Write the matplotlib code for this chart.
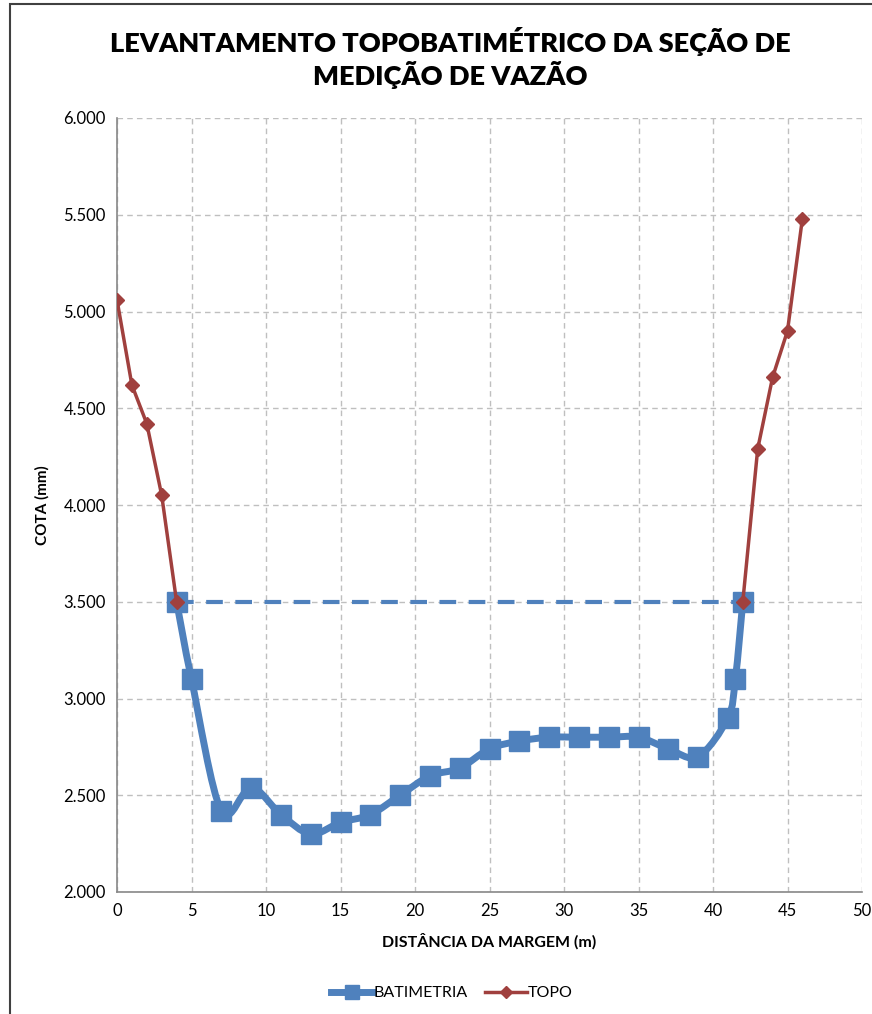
import numpy as np
import matplotlib
matplotlib.use("Agg")
import matplotlib.pyplot as plt
from matplotlib.path import Path
from matplotlib.patches import PathPatch, Rectangle
from matplotlib.lines import Line2D
from matplotlib.ticker import FuncFormatter

plt.rcParams['font.family'] = ['Lato', 'DejaVu Sans']

# Batimetria (smoothed line in the original)
bat_x = [4, 5, 7, 9, 11, 13, 15, 17, 19, 21, 23, 25, 27, 29, 31, 33, 35, 37, 39, 41, 41.5, 42]
bat_y = [3.50, 3.10, 2.42, 2.54, 2.40, 2.30, 2.36, 2.40, 2.50, 2.60, 2.64, 2.74, 2.78,
         2.80, 2.80, 2.80, 2.80, 2.74, 2.70, 2.90, 3.10, 3.50]

# Water level (dashed)
na_x = [4, 42]
na_y = [3.50, 3.50]

# Topo
topo_x = [0, 1, 2, 3, 4, 42, 43, 44, 45, 46]
topo_y = [5.06, 4.62, 4.42, 4.05, 3.50, 3.50, 4.29, 4.66, 4.90, 5.48]
topo_left = 5  # first five points are left bank, rest right bank

blue = '#4F81BD'
red = '#A0403E'


def smooth_path(x, y):
    # Excel-style smoothed line: cubic Bezier with Catmull-Rom control points
    x = np.asarray(x, float)
    y = np.asarray(y, float)
    verts = [(x[0], y[0])]
    codes = [Path.MOVETO]
    n = len(x)
    for i in range(n - 1):
        x0, y0 = (x[i - 1], y[i - 1]) if i > 0 else (x[i], y[i])
        x3, y3 = (x[i + 2], y[i + 2]) if i + 2 < n else (x[i + 1], y[i + 1])
        c1 = (x[i] + (x[i + 1] - x0) / 6, y[i] + (y[i + 1] - y0) / 6)
        c2 = (x[i + 1] - (x3 - x[i]) / 6, y[i + 1] - (y3 - y[i]) / 6)
        verts += [c1, c2, (x[i + 1], y[i + 1])]
        codes += [Path.CURVE4] * 3
    return Path(verts, codes)


fig = plt.figure(figsize=(8.72, 10.14), dpi=100)
ax = fig.add_axes([117 / 872, 1 - 892 / 1014, (862 - 117) / 872, (892 - 118) / 1014])

# figure border (chart area continues past the right/bottom edge)
fig.patches.append(Rectangle((9.5 / 872, -0.05), 1.2, 1 - 3.5 / 1014 + 0.05,
                             transform=fig.transFigure, fill=False,
                             edgecolor='#404040', linewidth=1.5))

ax.plot(na_x, na_y, color=blue, lw=3, ls=(0, (4, 3)), zorder=3)

ax.add_patch(PathPatch(smooth_path(bat_x, bat_y), fill=False, edgecolor=blue,
                       lw=5, capstyle='round', joinstyle='round', zorder=4))
ax.plot(bat_x, bat_y, ls='none', marker='s', ms=14, color=blue, zorder=5)

ax.plot(topo_x[:topo_left], topo_y[:topo_left], color=red, lw=2.5,
        marker='D', ms=7, zorder=6)
ax.plot(topo_x[topo_left:], topo_y[topo_left:], color=red, lw=2.5,
        marker='D', ms=7, zorder=6)

ax.set_xlim(0, 50)
ax.set_ylim(2.0, 6.0)
ax.set_xticks(np.arange(0, 51, 5))
ax.set_yticks(np.arange(2.0, 6.01, 0.5))
ax.yaxis.set_major_formatter(FuncFormatter(lambda v, p: f"{v:.3f}"))
ax.grid(True, color='#BFBFBF', ls=(0, (4, 3)), lw=1)
ax.set_axisbelow(True)
for s in ['top', 'right']:
    ax.spines[s].set_visible(False)
for s in ['left', 'bottom']:
    ax.spines[s].set_color('#888888')
    ax.spines[s].set_linewidth(1.2)
ax.tick_params(length=0, labelsize=12, pad=8)
ax.set_xlabel('DISTÂNCIA DA MARGEM (m)', fontsize=11.5, fontweight='bold', labelpad=10)
ax.set_ylabel('COTA (mm)', fontsize=11, fontweight='bold', labelpad=10)

fig.text(450 / 872, 1 - 58 / 1014, 'LEVANTAMENTO TOPOBATIMÉTRICO DA SEÇÃO DE\nMEDIÇÃO DE VAZÃO',
         ha='center', va='center', fontsize=19.5, fontweight='heavy', linespacing=1.2)

handles = [Line2D([], [], color=blue, lw=5, marker='s', ms=10),
           Line2D([], [], color=red, lw=2.5, marker='D', ms=6)]
fig.legend(handles, ['BATIMETRIA', 'TOPO'], loc='center', bbox_to_anchor=(452 / 872, 1 - 993 / 1014),
           ncol=2, frameon=False, fontsize=11.5, handlelength=2.6, handletextpad=0.05,
           columnspacing=1.1)

fig.savefig('out.png', dpi=100)
